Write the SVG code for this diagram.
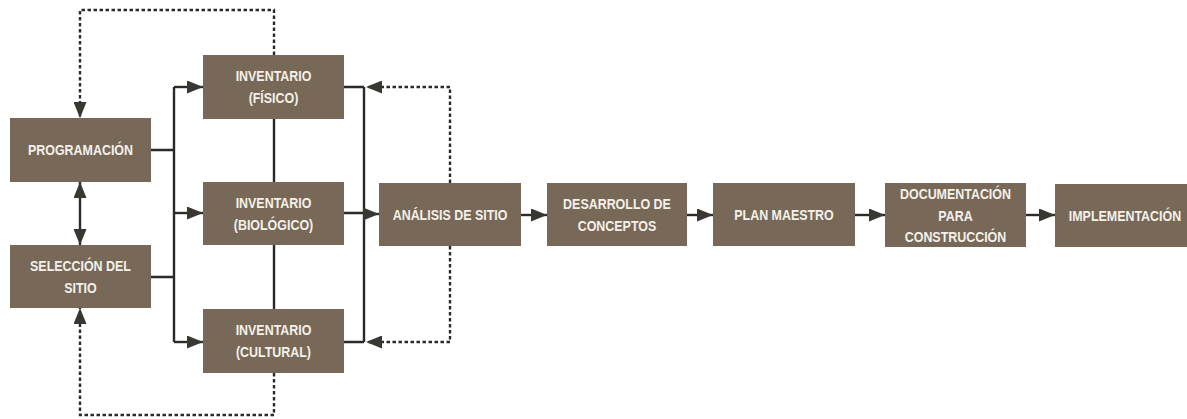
<svg xmlns="http://www.w3.org/2000/svg" width="1187" height="419" viewBox="0 0 1187 419">
<style>
.box{fill:#776857;}
.t{font-family:"Liberation Sans",Arial,sans-serif;font-weight:bold;font-size:15px;fill:#f4f0ea;text-anchor:middle;transform-box:fill-box;transform-origin:center;transform:scaleX(0.83);}
.ln{fill:none;stroke:#2b2a28;stroke-width:2.4;}
.ds{fill:none;stroke:#2b2a28;stroke-width:2.4;stroke-dasharray:3.5,2.5;}
</style>
<defs>
<marker id="ah" markerUnits="userSpaceOnUse" markerWidth="16" markerHeight="13" refX="16" refY="6.5" orient="auto-start-reverse" viewBox="0 0 16 13">
<path d="M0,0 L16,6.5 L0,13 z" fill="#3a3631"/>
</marker>
</defs>
<rect width="1187" height="419" fill="#ffffff"/>
<g id="connectors">
<path class="ln" d="M151,150 H174 M151,277 H174 M174,87 V342"/>
<path class="ln" d="M174,87 H203" marker-end="url(#ah)"/>
<path class="ln" d="M174,213 H203" marker-end="url(#ah)"/>
<path class="ln" d="M174,342 H203" marker-end="url(#ah)"/>
<path class="ln" d="M274,119 V182 M274,245 V309"/>
<path class="ln" d="M344,87 H364 M344,213 H364 M344,342 H364 M364,87 V342"/>
<path class="ln" d="M364,214 H379" marker-end="url(#ah)"/>
<path class="ds" d="M450,183 V87 H366" marker-end="url(#ah)"/>
<path class="ds" d="M450,246 V342 H366" marker-end="url(#ah)"/>
<path class="ds" d="M274,55 V10 H80 V118" marker-end="url(#ah)"/>
<path class="ds" d="M274,373 V415 H80 V308" marker-end="url(#ah)"/>
<path class="ln" d="M80,182 V245" marker-start="url(#ah)" marker-end="url(#ah)"/>
<path class="ln" d="M521,215 H547" marker-end="url(#ah)"/>
<path class="ln" d="M687,215 H713" marker-end="url(#ah)"/>
<path class="ln" d="M855,215 H885" marker-end="url(#ah)"/>
<path class="ln" d="M1026,215 H1055" marker-end="url(#ah)"/>
</g>
<g id="programacion"><rect class="box" x="10" y="118" width="141" height="64"/><text class="t" x="80.5" y="155.5">PROGRAMACIÓN</text></g>
<g id="seleccion"><rect class="box" x="10" y="245" width="141" height="63"/><text class="t" x="80.5" y="271">SELECCIÓN DEL</text><text class="t" x="80.5" y="293">SITIO</text></g>
<g id="inv-fisico"><rect class="box" x="203" y="55" width="141" height="64"/><text class="t" x="273.5" y="81">INVENTARIO</text><text class="t" x="273.5" y="103">(FÍSICO)</text></g>
<g id="inv-biologico"><rect class="box" x="203" y="182" width="141" height="63"/><text class="t" x="273.5" y="208">INVENTARIO</text><text class="t" x="273.5" y="230">(BIOLÓGICO)</text></g>
<g id="inv-cultural"><rect class="box" x="203" y="309" width="141" height="64"/><text class="t" x="273.5" y="335">INVENTARIO</text><text class="t" x="273.5" y="357">(CULTURAL)</text></g>
<g id="analisis"><rect class="box" x="379" y="183" width="142" height="63"/><text class="t" x="450" y="220">ANÁLISIS DE SITIO</text></g>
<g id="desarrollo"><rect class="box" x="547" y="183" width="140" height="63"/><text class="t" x="617" y="209">DESARROLLO DE</text><text class="t" x="617" y="231">CONCEPTOS</text></g>
<g id="plan"><rect class="box" x="713" y="183" width="142" height="63"/><text class="t" x="784" y="220">PLAN MAESTRO</text></g>
<g id="documentacion"><rect class="box" x="885" y="183" width="141" height="64"/><text class="t" x="955.5" y="199">DOCUMENTACIÓN</text><text class="t" x="955.5" y="221">PARA</text><text class="t" x="955.5" y="242">CONSTRUCCIÓN</text></g>
<g id="implementacion"><rect class="box" x="1055" y="184" width="142" height="63"/><text class="t" x="1125" y="221">IMPLEMENTACIÓN</text></g>
</svg>
